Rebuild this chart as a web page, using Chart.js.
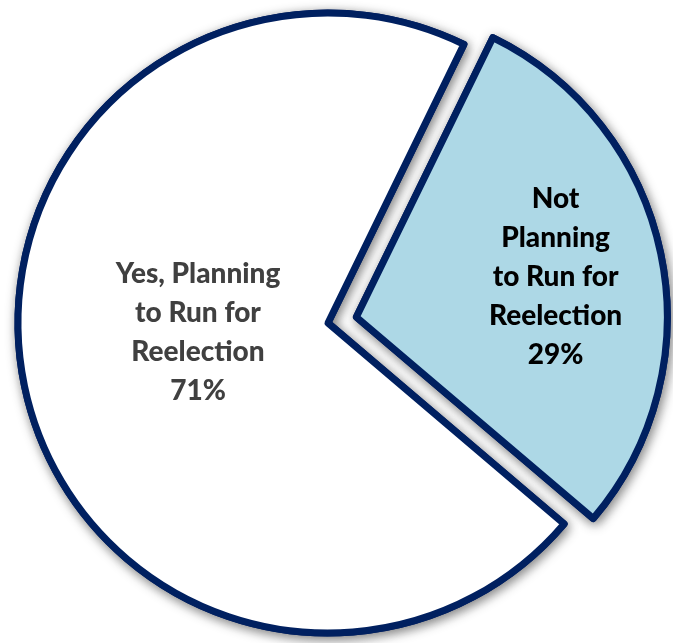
<!DOCTYPE html>
<html><head><meta charset="utf-8">
<script src="https://cdn.jsdelivr.net/npm/chart.js@4"></script>
<style>html,body{margin:0;padding:0;background:#fff;} canvas{display:block}</style>
</head><body>
<canvas id="c" width="673" height="643"></canvas>
<script>
// ---- data ----
const categories = [["Yes, Planning","to Run for","Reelection"],["Not","Planning","to Run for","Reelection"]];
const values = [71, 29];
const sliceColors = ['#FFFFFF', '#ADD8E6'];
const labelColors = ['#404040', '#000000'];
// label placement (fraction of radius, angle shift in degrees)
const labelPlace = [{frac: 0.42, shift: 8.5}, {frac: 0.75, shift: 0}];

const shadowPlugin = {
  id: 'shadow',
  beforeDatasetsDraw(chart) {
    const ctx = chart.ctx;
    const meta = chart.getDatasetMeta(0);
    ctx.save();
    ctx.shadowColor = 'rgba(0,0,0,0.45)';
    ctx.shadowBlur = 12;
    ctx.shadowOffsetX = 2;
    ctx.shadowOffsetY = 3;
    meta.data.forEach(el => el.draw(ctx));
    ctx.restore();
  }
};

const labelPlugin = {
  id: 'sliceLabels',
  afterDatasetsDraw(chart) {
    const ctx = chart.ctx;
    const meta = chart.getDatasetMeta(0);
    const total = values.reduce((a, b) => a + b, 0);
    meta.data.forEach((el, i) => {
      const p = el.getProps(['x','y','startAngle','endAngle','outerRadius'], true);
      const a = (p.startAngle + p.endAngle) / 2 + labelPlace[i].shift * Math.PI / 180;
      const r = p.outerRadius * labelPlace[i].frac;
      const cx = p.x + Math.cos(a) * r;
      const cy = p.y + Math.sin(a) * r + 2;
      const lines = categories[i].concat([Math.round(values[i] / total * 100) + '%']);
      const lh = 39;
      ctx.save();
      ctx.font = '900 28px Lato';
      ctx.fillStyle = labelColors[i];
      ctx.textAlign = 'center';
      ctx.textBaseline = 'middle';
      lines.forEach((t, k) => {
        ctx.fillText(t, cx, cy + (k - (lines.length - 1) / 2) * lh);
      });
      ctx.restore();
    });
  }
};

new Chart(document.getElementById('c'), {
  type: 'pie',
  data: {
    labels: categories,
    datasets: [{
      data: values,
      backgroundColor: sliceColors,
      borderColor: '#002060',
      borderWidth: 7,
      borderJoinStyle: 'round',
      offset: [0, 116]
    }]
  },
  options: {
    responsive: false,
    animation: false,
    rotation: 130.4,
    radius: 310,
    layout: {padding: {left: 0, right: 17, top: 3, bottom: 0}},
    plugins: {legend: {display: false}, tooltip: {enabled: false}}
  },
  plugins: [shadowPlugin, labelPlugin]
});
</script>
</body></html>
